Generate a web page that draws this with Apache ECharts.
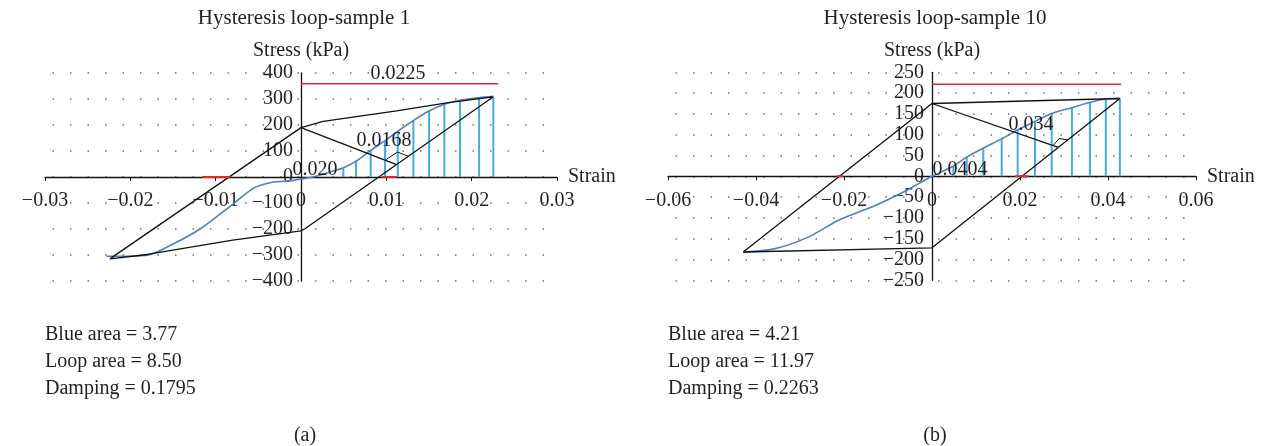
<!DOCTYPE html>
<html><head><meta charset="utf-8">
<script src="https://cdn.jsdelivr.net/npm/echarts@6/dist/echarts.min.js"></script>
<style>html,body{margin:0;padding:0;background:#fff}#c{width:1264px;height:446px}</style>
</head><body><div id="c"></div>
<script>
// ---------- data: sample 1 ----------
const s1Title = 'Hysteresis loop-sample 1';
const s1Loop = [[-0.0224,-315],[0,190],[0.0026,214],[0.0112,254],[0.0171,285],[0.0225,308],[0.0005,-198],[0,-207],[-0.008,-243],[-0.018,-298],[-0.0224,-315]];
const s1Blue = [[-0.0228,-305],[-0.018,-301],[-0.015,-258],[-0.0118,-199],[-0.0079,-102],[-0.0055,-42],[-0.0035,-21],[-0.0009,-13],[0,-8],[0.002,5],[0.0034,19],[0.005,36],[0.0065,62],[0.0082,103],[0.0099,141],[0.0113,175],[0.0132,218],[0.015,254],[0.0168,280],[0.0186,295],[0.0209,305],[0.0225,310]];
const s1BarX = [0.00496,0.00645,0.00817,0.00985,0.01134,0.01317,0.01501,0.0168,0.01864,0.02087,0.02254];
const s1BarY = [35,62,103,141,177,218,254,280,295,305,310];
const s1Perp = [[0,190],[0.0112,48]];
const s1Marker = [[0.00996,66.9],[0.01131,95.8],[0.01258,79.6]];
const s1RedTop = [[0,359],[0.0231,359]];
const s1RedAxisA = [[-0.0116,0],[-0.0083,0]];
const s1RedAxisB = [[0.0095,0],[0.0112,0]];
const s1Notes = [[0.01137,399,'0.0225'],[0.00973,141,'0.0168'],[0.00164,26,'0.020']];
const s1Text = ['Blue area = 3.77','Loop area = 8.50','Damping = 0.1795'];
const s1Y = {min:-400,max:400,interval:100};
const s1X = {min:-0.03,max:0.03,interval:0.01};

// ---------- data: sample 10 ----------
const s10Title = 'Hysteresis loop-sample 10';
const s10Loop = [[-0.0429,-182],[0,175],[0.0427,187],[0,-172],[-0.0429,-182]];
const s10Blue = [[-0.0429,-182],[-0.0361,-175],[-0.0285,-148],[-0.0209,-104],[-0.0133,-72],[-0.0058,-34],[0,0],[0.0048,24],[0.0079,46],[0.0117,68],[0.0158,90],[0.0195,112],[0.0234,132],[0.0272,151],[0.0318,165],[0.036,178],[0.0395,186],[0.0427,187]];
const s10BarX = [0.00485,0.00789,0.01166,0.01584,0.01947,0.0234,0.0272,0.0318,0.0359,0.0395,0.0427];
const s10BarY = [24,48,68,90,112,132,152,165,178,186,187];
const s10Perp = [[0,175],[0.0287,69.5]];
const s10Marker = [[0.0275,73.8],[0.0289,90.6],[0.0309,87.5]];
const s10RedTop = [[0,221],[0.043,221]];
const s10RedAxisA = [[-0.0217,0],[-0.0202,0]];
const s10RedAxisB = [[0.0189,0],[0.0219,0]];
const s10Notes = [[0.0214,254,'0.0425'],[0.0225,124,'0.034'],[0.00636,16,'0.0404']];
const s10Text = ['Blue area = 4.21','Loop area = 11.97','Damping = 0.2263'];
const s10Y = {min:-250,max:250,interval:50};
const s10X = {min:-0.06,max:0.06,interval:0.02};

const panelLabels = ['(a)','(b)'];
const xName = 'Strain', yName = 'Stress (kPa)';

// ---------- style ----------
const FONT = 'Liberation Serif';
const TXT = '#231f20';
const FS = 20;
const BLACK = '#111';
const BLUE = '#4f7fbf';
const VBLUE = '#45ace0';
const RED = '#e3262d';

const fmt = (v) => { const s = String(+(+v).toFixed(4)); return s.replace('-', '\u2212'); };

const chart = echarts.init(document.getElementById('c'), null, {renderer:'canvas'});

const grids = [
  {left:45, top:73, width:512, height:208},
  {left:668, top:72.3, width:528, height:208}
];

// axes cross at zero, which lies at the centre of each (symmetric) grid
function xAxisOf(i, cfg){
  return {
    type:'value', gridIndex:i, min:cfg.min, max:cfg.max, interval:cfg.interval,
    position:'bottom', offset:-grids[i].height/2,
    name:xName, nameLocation:'end', nameGap:11,
    nameTextStyle:{fontFamily:FONT,fontSize:FS,color:TXT,verticalAlign:'middle',align:'left'},
    axisLine:{show:true,onZero:false,lineStyle:{color:BLACK,width:1.3}},
    axisTick:{show:true,inside:false,length:4,lineStyle:{color:BLACK,width:1}},
    axisLabel:{show:true,margin:14,formatter:fmt,fontFamily:FONT,fontSize:FS,color:TXT},
    splitLine:{show:false}
  };
}
function yAxisOf(i, cfg){
  return {
    type:'value', gridIndex:i, min:cfg.min, max:cfg.max, interval:cfg.interval,
    position:'left', offset:-grids[i].width/2,
    name:yName, nameLocation:'end', nameGap:12,
    nameTextStyle:{fontFamily:FONT,fontSize:FS,color:TXT,align:'center',verticalAlign:'bottom'},
    axisLine:{show:true,onZero:false,lineStyle:{color:BLACK,width:1.3}},
    axisTick:{show:false},
    axisLabel:{show:true,margin:8,formatter:fmt,fontFamily:FONT,fontSize:FS,color:TXT},
    splitLine:{show:true,lineStyle:{color:'#6d6d6d',width:1.5,type:[1.5,16],dashOffset:10}}
  };
}

function lineS(i, data, color, width, z){
  return {type:'line', xAxisIndex:i, yAxisIndex:i, data:data, showSymbol:false, symbol:'none',
    lineStyle:{color:color,width:width}, z:z||3, animation:false, silent:true};
}
function barsS(i, xs, ys){
  return {type:'custom', xAxisIndex:i, yAxisIndex:i, z:2, animation:false, silent:true,
    data: xs.map((x,k)=>[x, ys[k]]),
    renderItem:function(params, api){
      const p0 = api.coord([api.value(0), 0]);
      const p1 = api.coord([api.value(0), api.value(1)]);
      return {type:'line', shape:{x1:p0[0],y1:p0[1],x2:p1[0],y2:p1[1]}, style:{stroke:VBLUE,lineWidth:2}};
    }};
}
function notesS(i, notes){
  return {type:'scatter', xAxisIndex:i, yAxisIndex:i, z:6, animation:false, silent:true,
    symbolSize:1, itemStyle:{color:'#ffffff', opacity:1, borderWidth:0},
    data: notes.map(n=>({value:[n[0],n[1]], name:n[2]})),
    label:{show:true, position:'inside', formatter:(p)=>p.name, fontFamily:FONT, fontSize:FS,
      color:TXT, textBorderWidth:0, textBorderColor:'transparent', opacity:1}};
}
function panel(i, loop, blue, bx, by, perp, marker, redTop, redA, redB, notes){
  return [
    barsS(i, bx, by),
    Object.assign(lineS(i, blue, BLUE, 1.6, 3), {smooth:0.25}),
    lineS(i, loop, BLACK, 1.3, 4),
    lineS(i, perp, BLACK, 1.3, 4),
    lineS(i, marker, BLACK, 1, 4),
    lineS(i, redTop, RED, 1.5, 5),
    lineS(i, redA, RED, 2, 5),
    lineS(i, redB, RED, 2, 5),
    notesS(i, notes)
  ];
}

const textStyle = {fontFamily:FONT,fontSize:FS,fill:TXT};
const graphics = [];
[[s1Text,45],[s10Text,668]].forEach(([lines,x])=>{
  lines.forEach((t,k)=>graphics.push({type:'text', left:x, top:325+k*27, style:Object.assign({text:t}, textStyle)}));
});

const tStyle = {fontFamily:FONT,fontSize:FS,fontWeight:'normal',color:TXT};
chart.setOption({
  animation:false,
  backgroundColor:'#fff',
  title:[
    {text:s1Title, left:299, top:3, textAlign:'center', textStyle:Object.assign({}, tStyle, {fontSize:21})},
    {text:s10Title, left:930, top:3, textAlign:'center', textStyle:Object.assign({}, tStyle, {fontSize:21})},
    {text:panelLabels[0], left:300, top:421, textAlign:'center', textStyle:tStyle},
    {text:panelLabels[1], left:930, top:421, textAlign:'center', textStyle:tStyle}
  ],
  grid: grids.map(g=>Object.assign({containLabel:false, outerBoundsMode:'none'}, g)),
  xAxis:[xAxisOf(0, s1X), xAxisOf(1, s10X)],
  yAxis:[yAxisOf(0, s1Y), yAxisOf(1, s10Y)],
  series:[].concat(
    panel(0, s1Loop, s1Blue, s1BarX, s1BarY, s1Perp, s1Marker, s1RedTop, s1RedAxisA, s1RedAxisB, s1Notes),
    panel(1, s10Loop, s10Blue, s10BarX, s10BarY, s10Perp, s10Marker, s10RedTop, s10RedAxisA, s10RedAxisB, s10Notes)
  ),
  graphic: graphics
});
</script></body></html>
